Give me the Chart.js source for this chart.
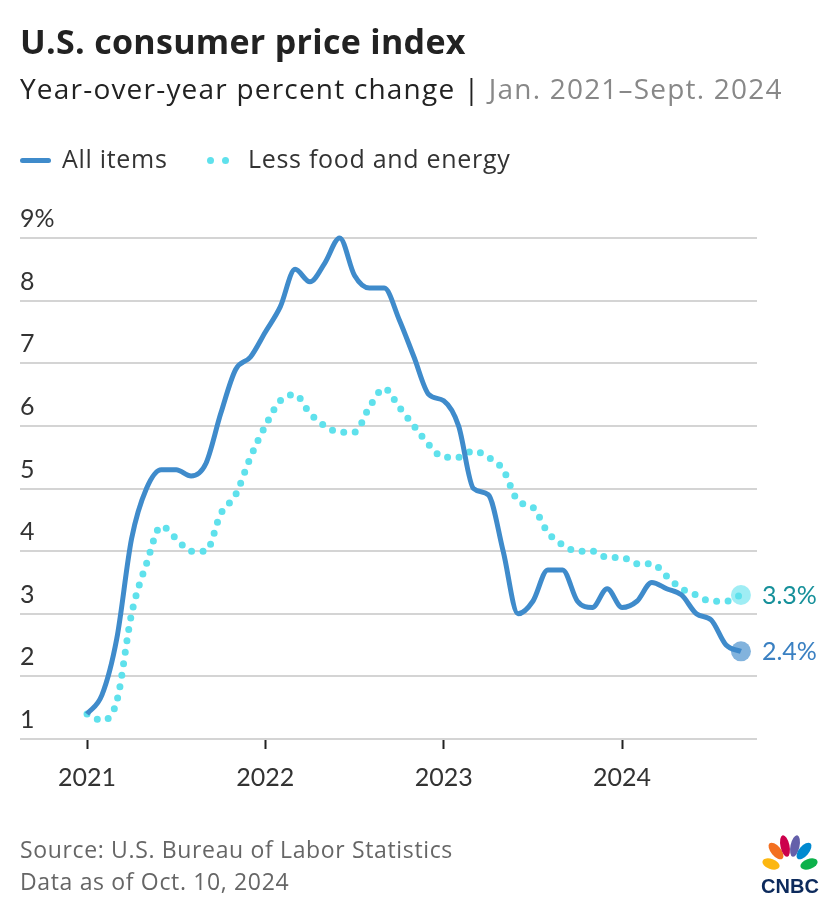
<!DOCTYPE html>
<html>
<head>
<meta charset="utf-8">
<script src="https://cdn.jsdelivr.net/npm/chart.js@4"></script>
<style>
  body { margin: 0; background: #fff; font-family: "Open Sans", Lato, sans-serif; }
  #wrap { position: relative; width: 840px; height: 918px; overflow: hidden; }
  #cpi { position: absolute; left: 0; top: 0; }
  .txt { position: absolute; white-space: nowrap; }
  #titulo { left: 20px; top: 18px; font-size: 34px; font-weight: 700; color: #222; letter-spacing: 0.3px; }
  #subtitulo { left: 20px; top: 69px; font-size: 28px; color: #222; letter-spacing: 1.2px; }
  #subtitulo span { color: #888; }
  .leyenda { top: 141px; font-size: 25px; color: #333; letter-spacing: 0.7px; }
  .linea { position: absolute; left: 20px; top: 158px; width: 31px; height: 5px; border-radius: 3px; background: #3f8bcb; }
  .punto { position: absolute; top: 157px; width: 7px; height: 7px; border-radius: 50%; background: #5fe1ec; }
  .fuente { left: 20px; font-size: 23px; color: #666; letter-spacing: 0.65px; }
  #logo { position: absolute; left: 756px; top: 834px; }
</style>
</head>
<body>
<div id="wrap">
  <canvas id="cpi" width="840" height="918"></canvas>
  <div id="titulo" class="txt">U.S. consumer price index</div>
  <div id="subtitulo" class="txt">Year-over-year percent change | <span>Jan. 2021–Sept. 2024</span></div>
  <div class="linea"></div>
  <div class="txt leyenda" style="left:62px">All items</div>
  <div class="punto" style="left:207px"></div>
  <div class="punto" style="left:222px"></div>
  <div class="txt leyenda" style="left:248px">Less food and energy</div>
  <div class="txt fuente" style="top:833px">Source: U.S. Bureau of Labor Statistics</div>
  <div class="txt fuente" style="top:865px">Data as of Oct. 10, 2024</div>
  <svg id="logo" width="68" height="62" viewBox="0 0 68 62">
    <g transform="translate(34,34)">
      <ellipse cx="-19" cy="-4" rx="9" ry="5" fill="#fcb711" transform="rotate(20 -19 -4)"/>
      <ellipse cx="-14" cy="-17" rx="5" ry="10" fill="#f37021" transform="rotate(-40 -14 -17)"/>
      <ellipse cx="-5" cy="-22" rx="4.5" ry="11" fill="#cc004c" transform="rotate(-12 -5 -22)"/>
      <ellipse cx="5" cy="-22" rx="4.5" ry="11" fill="#6460aa" transform="rotate(12 5 -22)"/>
      <ellipse cx="14" cy="-17" rx="5" ry="10" fill="#0089d0" transform="rotate(40 14 -17)"/>
      <ellipse cx="19" cy="-4" rx="9" ry="5" fill="#0db14b" transform="rotate(-20 19 -4)"/>
    </g>
    <text x="34" y="59" text-anchor="middle" font-family="Liberation Sans, Arial, sans-serif" font-weight="700" font-size="20" fill="#0c2a5c">CNBC</text>
  </svg>
</div>
<script>
// meses desde enero 2021 (0) hasta septiembre 2024 (44)
const anios = ["2021", "2022", "2023", "2024"];
const posicionAnios = [0, 12, 24, 36];
const valoresY = [1, 2, 3, 4, 5, 6, 7, 8, 9];

const todos = [
  1.4, 1.7, 2.6, 4.2, 5.0, 5.3, 5.3, 5.2, 5.4, 6.2, 6.9, 7.1,
  7.5, 7.9, 8.5, 8.3, 8.6, 9.0, 8.4, 8.2, 8.2, 7.7, 7.1, 6.5,
  6.4, 6.0, 5.0, 4.9, 4.0, 3.0, 3.2, 3.7, 3.7, 3.2, 3.1, 3.4,
  3.1, 3.2, 3.5, 3.4, 3.3, 3.0, 2.9, 2.5, 2.4
];
const sinAlimentos = [
  1.4, 1.3, 1.6, 3.0, 3.8, 4.4, 4.2, 4.0, 4.0, 4.6, 4.9, 5.5,
  6.0, 6.4, 6.5, 6.2, 6.0, 5.9, 5.9, 6.3, 6.6, 6.3, 6.0, 5.7,
  5.5, 5.5, 5.6, 5.5, 5.3, 4.8, 4.7, 4.3, 4.1, 4.0, 4.0, 3.9,
  3.9, 3.8, 3.8, 3.6, 3.4, 3.3, 3.2, 3.2, 3.3
];

function puntos(serie) {
  return serie.map((v, i) => ({ x: i, y: v }));
}
function radios(serie) {
  return serie.map((v, i) => (i === serie.length - 1 ? 10 : 0));
}

const etiquetasFinales = {
  id: "etiquetasFinales",
  afterDatasetsDraw(chart) {
    const ctx = chart.ctx;
    const colores = ["#3a80c2", "#16909a"];
    ctx.save();
    ctx.font = "25px Lato";
    ctx.textBaseline = "middle";
    ctx.textAlign = "left";
    chart.data.datasets.forEach((ds, k) => {
      const meta = chart.getDatasetMeta(k);
      const p = meta.data[meta.data.length - 1];
      const v = ds.data[ds.data.length - 1].y;
      ctx.fillStyle = colores[k];
      ctx.fillText(v.toFixed(1) + "%", p.x + 21, p.y + 1);
    });
    ctx.restore();
  }
};

const config = {
  type: "line",
  data: {
    datasets: [
      {
        label: "All items",
        data: puntos(todos),
        borderColor: "#3f8bcb",
        borderWidth: 5,
        cubicInterpolationMode: "monotone",
        pointRadius: radios(todos),
        pointBackgroundColor: "rgba(63,139,203,0.65)",
        pointBorderWidth: 0,
        clip: false
      },
      {
        label: "Less food and energy",
        data: puntos(sinAlimentos),
        borderColor: "#5fe1ec",
        borderWidth: 7,
        borderDash: [0, 11.5],
        borderCapStyle: "round",
        cubicInterpolationMode: "monotone",
        pointRadius: radios(sinAlimentos),
        pointBackgroundColor: "rgba(95,225,236,0.6)",
        pointBorderWidth: 0,
        clip: false
      }
    ]
  },
  options: {
    responsive: false,
    animation: false,
    devicePixelRatio: 1,
    layout: { padding: { left: 20, right: 83, top: 238, bottom: 111 } },
    plugins: { legend: { display: false }, tooltip: { enabled: false } },
    scales: {
      x: {
        type: "linear",
        min: -4.51,
        max: 45.08,
        afterBuildTicks: (scale) => {
          scale.ticks = posicionAnios.map(v => ({ value: v }));
        },
        ticks: {
          autoSkip: false,
          maxRotation: 0,
          padding: 14,
          color: "#333",
          font: { family: "Lato", size: 25 },
          callback: (v) => anios[posicionAnios.indexOf(v)]
        },
        grid: {
          drawOnChartArea: false,
          tickLength: 10,
          tickWidth: 2,
          tickColor: "#222"
        },
        border: { display: false }
      },
      y: {
        min: 1,
        max: 9,
        afterBuildTicks: (scale) => {
          scale.ticks = valoresY.map(v => ({ value: v }));
        },
        ticks: {
          mirror: true,
          padding: 0,
          labelOffset: -19,
          color: "#333",
          font: { family: "Lato", size: 25 },
          callback: (v) => (v === 9 ? v + "%" : v)
        },
        grid: { color: "#d4d4d4", lineWidth: 2, drawTicks: false },
        border: { display: false }
      }
    }
  },
  plugins: [etiquetasFinales]
};

const lienzo = document.querySelector("#cpi").getContext("2d");
window.graficoCpi = new Chart(lienzo, config);
</script>
</body>
</html>
